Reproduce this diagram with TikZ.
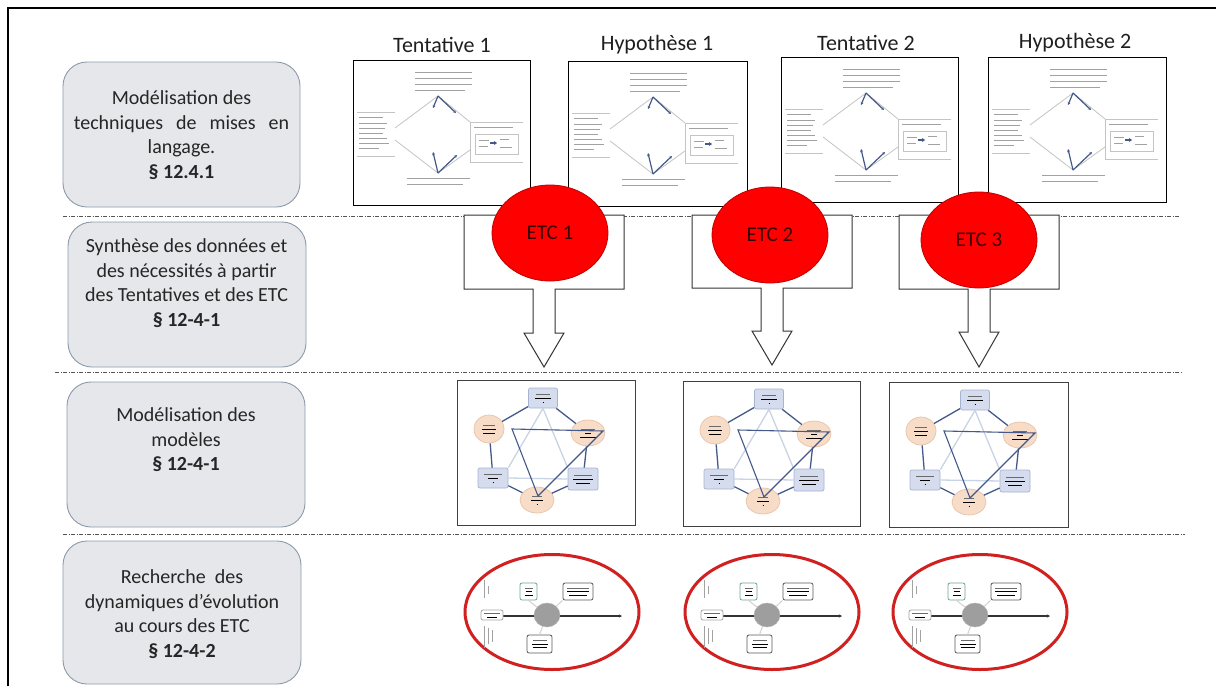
\documentclass[tikz,border=0pt]{standalone}
\usepackage{fontspec}
\setmainfont{Carlito}
\usetikzlibrary{shapes.geometric,arrows.meta}

\definecolor{boxfill}{HTML}{E5E7EA}
\definecolor{boxline}{HTML}{8C9BAB}
\definecolor{txt}{HTML}{262626}
\definecolor{etcred}{HTML}{FF0000}
\definecolor{etcline}{HTML}{C00000}
\definecolor{etctxt}{HTML}{3A0000}
\definecolor{ringred}{HTML}{D02020}
\definecolor{hexblue}{HTML}{D5DCEE}
\definecolor{hexblueline}{HTML}{A6B3D3}
\definecolor{hexpeach}{HTML}{F7DCC8}
\definecolor{hexpeachline}{HTML}{E8C2A6}
\definecolor{darkedge}{HTML}{44598A}
\definecolor{lightedge}{HTML}{C9D3E6}
\definecolor{scrib}{HTML}{A2A2A2}
\definecolor{scribdark}{HTML}{6A6A6A}
\definecolor{sepline}{HTML}{555555}
\definecolor{thinline}{HTML}{C4C4C4}
\definecolor{fishgreen}{HTML}{6FA58C}

\tikzset{
  stagebox/.style={draw=boxline, fill=boxfill, rounded corners=24pt, line width=0.9pt, inner sep=0pt},
  stagetext/.style={text=txt, align=center, inner sep=0pt, font=\fontsize{20}{24.5}\selectfont},
  titletext/.style={text=black!88, inner sep=0pt, font=\fontsize{22}{26}\selectfont},
  thumbbox/.style={draw=black, line width=1.1pt, fill=white, inner sep=0pt},
  hexframe/.style={draw=black!75, line width=1.4pt, fill=white, inner sep=0pt},
  sep/.style={draw=sepline, line width=0.8pt, dash pattern=on 4pt off 1.5pt on 1pt off 1.5pt},
  etc/.style={ellipse, fill=etcred, draw=etcline, line width=0.8pt, minimum width=116pt, minimum height=96pt, inner sep=0pt, text=etctxt, font=\fontsize{21}{24}\selectfont},
  callout/.style={draw=black!80, line width=1pt, fill=white, line join=miter},
  ring/.style={ellipse, draw=ringred, line width=3pt, minimum width=174pt, minimum height=115pt, inner sep=0pt},
  scribline/.style={draw=scrib, line width=0.6pt},
  rule/.style={draw=thinline, line width=0.8pt},
  diamondline/.style={draw=thinline, line width=0.8pt},
  bluearrow/.style={draw=darkedge, line width=1.2pt, -{Stealth[length=3pt,width=3pt]}},
  hexrect/.style={rectangle, rounded corners=2pt, draw=hexblueline, fill=hexblue, line width=0.7pt, inner sep=0pt, align=center, font=\fontsize{3.5}{4}\selectfont},
  hexell/.style={ellipse, draw=hexpeachline, fill=hexpeach, line width=0.7pt, inner sep=0pt, align=center, font=\fontsize{3.5}{4}\selectfont},
  darkline/.style={draw=darkedge, line width=1.3pt},
  lightline/.style={draw=lightedge, line width=1.3pt},
  fishbox/.style={rectangle, rounded corners=2pt, draw=black!65, fill=white, line width=0.8pt, inner sep=0pt, align=center, font=\fontsize{3}{3.5}\selectfont},
  fishcirc/.style={ellipse, fill=black!38, draw=black!30, minimum width=26pt, minimum height=24pt, inner sep=0pt},
  fishspine/.style={draw=black!80, line width=1.2pt, -{Stealth[length=3pt,width=3pt]}},
  fishlight/.style={draw=black!18, line width=1pt},
}

\newcommand\txlines[3]{\color{scribdark}\rule{#1pt}{0.6pt}\\\rule{#2pt}{0.6pt}\\\rule{#3pt}{0.6pt}}

% Tentative / Hypothese thumbnail
\newcommand\TentThumb[4]{%
\begin{scope}[shift={(#2,#3)}]
  \node[thumbbox, anchor=north west, minimum width=#4pt, minimum height=145pt] (#1) at (0,0) {};
  \foreach \yy/\xa/\xb in {12/62/119,18/62/119,24/62/119,30/62/112}
    \draw[scribline] (\xa,\yy) -- (\xb,\yy);
  \coordinate (#1top) at (85,36);
  \coordinate (#1bot) at (85,113);
  \coordinate (#1lt) at (42,68);
  \coordinate (#1lb) at (42,80);
  \coordinate (#1rt) at (117,62);
  \coordinate (#1rb) at (117,90);
  \draw[diamondline] (#1lt) -- (#1top) -- (#1rt);
  \draw[diamondline] (#1lb) -- (#1bot) -- (#1rb);
  \draw[bluearrow] (#1top) -- (80,48);
  \draw[bluearrow] (#1top) -- (103,53);
  \draw[bluearrow] (#1bot) -- (80,92);
  \draw[bluearrow] (#1bot) -- (104,95);
  % left block
  \draw[rule] (4,52) -- (42,52);
  \draw[scribline] (6,57) -- (30,57);
  \foreach \yy/\xb in {63/34,68/32,73/30,78/34,83/36,88/26}
    \draw[scribline] (6,\yy) -- (\xb,\yy);
  \draw[rule] (4,96) -- (42,96);
  % right block
  \draw[rule] (170,62) -- (117,62) -- (117,102) -- (170,102);
  \draw[scribline] (121,67) -- (160,67);
  \draw[rule] (122,74) rectangle (165,94);
  \draw[scribline] (126,80) -- (136,80);
  \draw[scribline] (126,86) -- (135,86);
  \draw[draw=darkedge, line width=1.6pt, -{Stealth[length=3pt,width=4pt]}] (137,83) -- (144,83);
  \draw[scribline] (147,79) -- (156,79);
  \draw[scribline] (147,87) -- (159,87);
  % bottom text
  \draw[scribline] (54,118) -- (117,118);
  \draw[scribline] (54,124) -- (110,124);
\end{scope}}

% hexagon model thumbnail
\newcommand\HexThumb[4]{%
\begin{scope}[shift={(#2,#3)}]
  \node[hexframe, anchor=north west, minimum width=#4pt, minimum height=145pt] (#1) at (0,0) {};
  \node[hexrect, minimum width=29pt, minimum height=20pt] (#1a) at (86,18) {\txlines{14}{16}{1}};
  \node[hexell, minimum width=30pt, minimum height=28pt] (#1b) at (32,49) {\txlines{12}{14}{12}};
  \node[hexell, minimum width=34pt, minimum height=26pt] (#1c) at (131,53) {\txlines{14}{6}{16}};
  \node[hexrect, minimum width=30pt, minimum height=20pt] (#1d) at (36,98) {\txlines{18}{10}{1}};
  \node[hexrect, minimum width=30pt, minimum height=22pt] (#1e) at (126,99) {\txlines{18}{20}{14}};
  \node[hexell, minimum width=34pt, minimum height=26pt] (#1f) at (80,120) {\txlines{10}{12}{1}};
  \draw[lightline] (#1a.south) -- (#1d.north east);
  \draw[lightline] (#1a.south) -- (#1e.north west);
  \draw[lightline] (#1d.east) -- (#1e.west);
  \draw[darkline] (#1a) -- (#1b);
  \draw[darkline] (#1a) -- (#1c);
  \draw[darkline] (#1b) -- (#1d);
  \draw[darkline] (#1c) -- (#1e);
  \draw[darkline] (#1d) -- (#1f);
  \draw[darkline] (#1e) -- (#1f);
  \coordinate (#1t1) at (55,49);
  \coordinate (#1t2) at (146,51);
  \coordinate (#1t3) at (81,116);
  \draw[darkline, line width=1.1pt] (#1t1) -- (#1t2) -- (#1t3) -- cycle;
\end{scope}}

% fishbone dynamics thumbnail inside red ring
\newcommand\FishThumb[3]{%
\begin{scope}[shift={(#2,#3)}]
  \node[ring] (#1) at (0,0) {};
  \coordinate (#1sa) at (-49,4);
  \coordinate (#1sb) at (70,4);
  \draw[fishspine] (#1sa) -- (#1sb);
  \node[fishbox, minimum width=17pt, minimum height=17pt, draw=fishgreen] (#1g) at (-23.5,-20.5) {\txlines{8}{6}{8}};
  \node[fishbox, minimum width=30pt, minimum height=17pt] (#1r) at (26,-20.5) {\txlines{22}{22}{18}};
  \node[fishbox, minimum width=25pt, minimum height=18pt] (#1l) at (-12.5,32) {\txlines{14}{16}{14}};
  \node[fishbox, minimum width=22pt, minimum height=10pt, draw=black!35] (#1s) at (-60,3) {\color{scribdark}\rule{16pt}{0.5pt}\\\rule{10pt}{0.5pt}};
  \node[fishcirc] (#1c) at (-5,3) {};
  \draw[fishlight] (#1c) -- (#1g.south);
  \draw[fishlight] (#1c) -- (#1r.south west);
  \draw[fishlight] (#1c) -- (#1l.north);
  \draw[scribline] (-68,-32) -- (-68,-14);
  \draw[scribline] (-64,-26) -- (-64,-18);
  \draw[scribline] (-68,14) -- (-68,36);
  \draw[scribline] (-64,16) -- (-64,32);
  \draw[scribline] (-60,18) -- (-60,30);
\end{scope}}

% block arrow callout
\newcommand\CallOut[4]{%
  \draw[callout] ({#1-80},215) -- ({#1+80},215) -- ({#1+80},#2) -- ({#1+11},#2) -- ({#1+11},#3)
    -- ({#1+20},#3) -- (#1,#4) -- ({#1-20},#3) -- ({#1-11},#3) -- ({#1-11},#2) -- ({#1-80},#2) -- cycle;}

\begin{document}
\begin{tikzpicture}[x=1pt, y=-1pt]
\useasboundingbox (0,0) rectangle (1216,686);
\fill[white] (0,0) rectangle (1216,686);

% outer frame (left and top sides visible)
\coordinate (fa) at (8,686);
\coordinate (fb) at (8,8);
\coordinate (fc) at (1216,8);
\draw[line width=2.5pt, line join=miter] (fa) -- (fb) -- (fc);

% stage boxes
\node[stagebox, minimum width=237pt, minimum height=145pt] (s1) at (181.5,134.5) {};
\node[stagetext] (s1t) at (181.5,135) {Modélisation des\\techniques\hspace{13pt}de\hspace{13pt}mises\hspace{13pt}en\\langage.\\\textbf{§ 12.4.1}};
\node[stagebox, minimum width=238pt, minimum height=145pt] (s2) at (187,294.5) {};
\node[stagetext] (s2t) at (186.5,283) {Synthèse des données et\\des nécessités à partir\\des Tentatives et des ETC\\\textbf{§ 12-4-1}};
\node[stagebox, minimum width=238pt, minimum height=145pt] (s3) at (186,454.5) {};
\node[stagetext] (s3t) at (186,440) {Modélisation des\\modèles\\\textbf{§ 12-4-1}};
\node[stagebox, minimum width=238pt, minimum height=143pt] (s4) at (182,612.5) {};
\node[stagetext] (s4t) at (182,614) {Recherche\ \ des\\dynamiques d’évolution\\au cours des ETC\\\textbf{§ 12-4-2}};

% titles
\node[titletext] (t1) at (442,45) {Tentative 1};
\node[titletext] (h1) at (657,45) {Hypothèse 1};
\node[titletext] (t2) at (866,43) {Tentative 2};
\node[titletext] (h2) at (1075,43) {Hypothèse 2};

% top row thumbnails
\TentThumb{tt1}{353}{60}{177}
\TentThumb{th1}{568}{61}{179}
\TentThumb{tt2}{781}{57}{177}
\TentThumb{th2}{988}{57}{178}

% separators
\coordinate (l1a) at (63,216);  \coordinate (l1b) at (1180,216);
\coordinate (l2a) at (55,372);  \coordinate (l2b) at (1182,372);
\coordinate (l3a) at (63,534);  \coordinate (l3b) at (1185,534);
\draw[sep] (l1a) -- (l1b);
\draw[sep] (l2a) -- (l2b);
\draw[sep] (l3a) -- (l3b);

% block arrow callouts
\CallOut{544}{289}{333}{367}
\CallOut{772}{288}{331}{365}
\CallOut{979}{289}{332}{367}

% ETC ellipses
\node[etc] (e1) at (550,233) {ETC 1};
\node[etc] (e2) at (770,235) {ETC 2};
\node[etc] (e3) at (979,240) {ETC 3};

% model thumbnails
\HexThumb{m1}{457}{380}{178}
\HexThumb{m2}{683}{381}{177}
\HexThumb{m3}{889}{382}{179}

% dynamics thumbnails
\FishThumb{d1}{552}{612}
\FishThumb{d2}{772}{612}
\FishThumb{d3}{980}{612}
\end{tikzpicture}
\end{document}
